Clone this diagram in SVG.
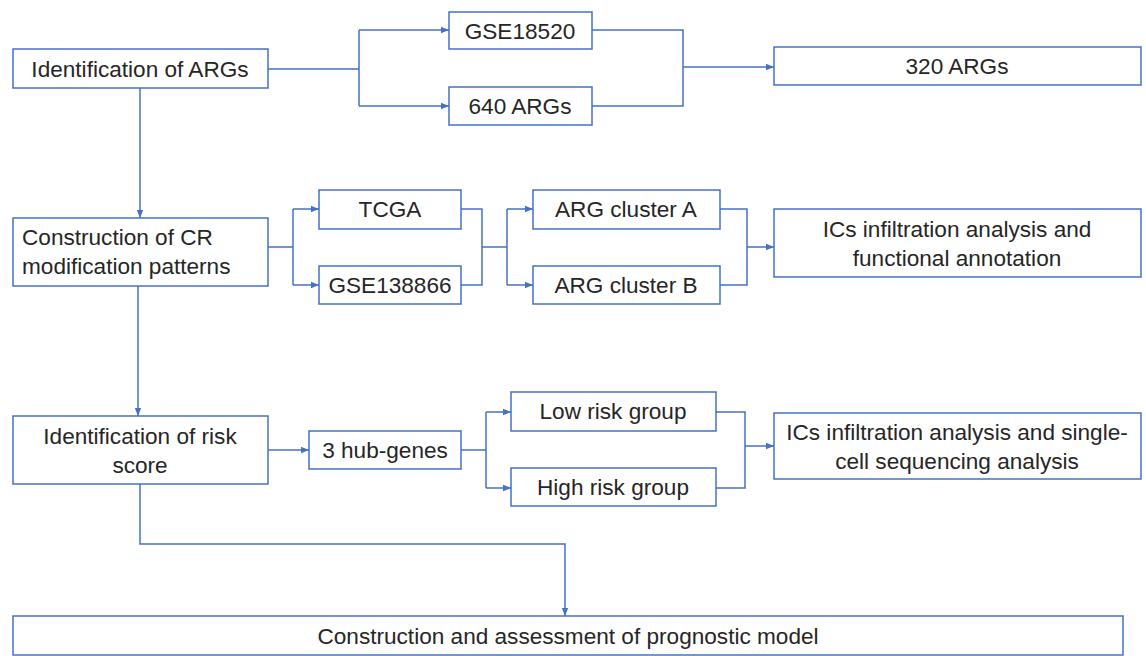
<svg xmlns="http://www.w3.org/2000/svg" width="1146" height="656" viewBox="0 0 1146 656">
<defs>
<marker id="arr" markerWidth="8" markerHeight="8" refX="8" refY="4" orient="auto" markerUnits="userSpaceOnUse">
<path d="M0,0.8 L8,4 L0,7.2 Z" fill="#4472C4"/>
</marker>
<style>
.box{fill:#fff;stroke:#4472C4;stroke-width:1.5}
.t{font-family:"Liberation Sans",Arial,sans-serif;font-size:22.6px;fill:#262626;text-anchor:middle;dominant-baseline:central}
.tl{font-family:"Liberation Sans",Arial,sans-serif;font-size:22.6px;fill:#262626}
.c{fill:none;stroke:#4472C4;stroke-width:1.5}
</style>
</defs>
<rect width="1146" height="656" fill="#fff"/>
<g id="connectors">
<path class="c" d="M268,69 H359 M359,30 V106"/>
<path class="c" d="M359,30 H449" marker-end="url(#arr)"/>
<path class="c" d="M359,106 H449" marker-end="url(#arr)"/>
<path class="c" d="M592,30 H683 V106 H592"/>
<path class="c" d="M683,67 H774" marker-end="url(#arr)"/>
<path class="c" d="M140,88 V218" marker-end="url(#arr)"/>
<path class="c" d="M268,247 H293 M293,209 V285"/>
<path class="c" d="M293,209 H319" marker-end="url(#arr)"/>
<path class="c" d="M293,285 H319" marker-end="url(#arr)"/>
<path class="c" d="M461,209 H482 V285 H461 M482,247 H507 M507,209 V285"/>
<path class="c" d="M507,209 H533" marker-end="url(#arr)"/>
<path class="c" d="M507,285 H533" marker-end="url(#arr)"/>
<path class="c" d="M720,209 H747 V285 H720"/>
<path class="c" d="M747,247 H774" marker-end="url(#arr)"/>
<path class="c" d="M138,286 V416" marker-end="url(#arr)"/>
<path class="c" d="M268,450 H309" marker-end="url(#arr)"/>
<path class="c" d="M461,450 H486 M486,412 V488"/>
<path class="c" d="M486,412 H511" marker-end="url(#arr)"/>
<path class="c" d="M486,488 H511" marker-end="url(#arr)"/>
<path class="c" d="M716,412 H745 V488 H716"/>
<path class="c" d="M745,446 H774" marker-end="url(#arr)"/>
<path class="c" d="M140,484 V544 H565 V616" marker-end="url(#arr)"/>
</g>
<g id="n1"><rect class="box" x="13" y="49" width="255" height="39"/><text class="t" x="140" y="69">Identification of ARGs</text></g>
<g id="n2"><rect class="box" x="449" y="12" width="143" height="37"/><text class="t" x="520" y="31">GSE18520</text></g>
<g id="n3"><rect class="box" x="449" y="87" width="143" height="38"/><text class="t" x="520" y="106">640 ARGs</text></g>
<g id="n4"><rect class="box" x="774" y="47" width="367" height="38"/><text class="t" x="957" y="66">320 ARGs</text></g>
<g id="n5"><rect class="box" x="13" y="218" width="255" height="68"/><text class="tl" x="22" y="245">Construction of CR</text><text class="tl" x="22" y="274">modification patterns</text></g>
<g id="n6"><rect class="box" x="319" y="190" width="142" height="39"/><text class="t" x="390" y="209">TCGA</text></g>
<g id="n7"><rect class="box" x="319" y="266" width="142" height="38"/><text class="t" x="390" y="285">GSE138866</text></g>
<g id="n8"><rect class="box" x="533" y="190" width="187" height="39"/><text class="t" x="626" y="209">ARG cluster A</text></g>
<g id="n9"><rect class="box" x="533" y="266" width="187" height="38"/><text class="t" x="626" y="285">ARG cluster B</text></g>
<g id="n10"><rect class="box" x="774" y="209" width="367" height="68"/><text class="t" x="957" y="229">ICs infiltration analysis and</text><text class="t" x="957" y="258">functional annotation</text></g>
<g id="n11"><rect class="box" x="13" y="416" width="255" height="68"/><text class="t" x="140" y="436">Identification of risk</text><text class="t" x="140" y="465">score</text></g>
<g id="n12"><rect class="box" x="309" y="431" width="152" height="38"/><text class="t" x="385" y="450">3 hub-genes</text></g>
<g id="n13"><rect class="box" x="511" y="392" width="205" height="39"/><text class="t" x="613" y="411">Low risk group</text></g>
<g id="n14"><rect class="box" x="511" y="468" width="205" height="38"/><text class="t" x="613" y="487">High risk group</text></g>
<g id="n15"><rect class="box" x="774" y="413" width="367" height="66"/><text class="t" x="957" y="432">ICs infiltration analysis and single-</text><text class="t" x="957" y="461">cell sequencing analysis</text></g>
<g id="n16"><rect class="box" x="13" y="616" width="1110" height="39"/><text class="t" x="568" y="636">Construction and assessment of prognostic model</text></g>
</svg>
